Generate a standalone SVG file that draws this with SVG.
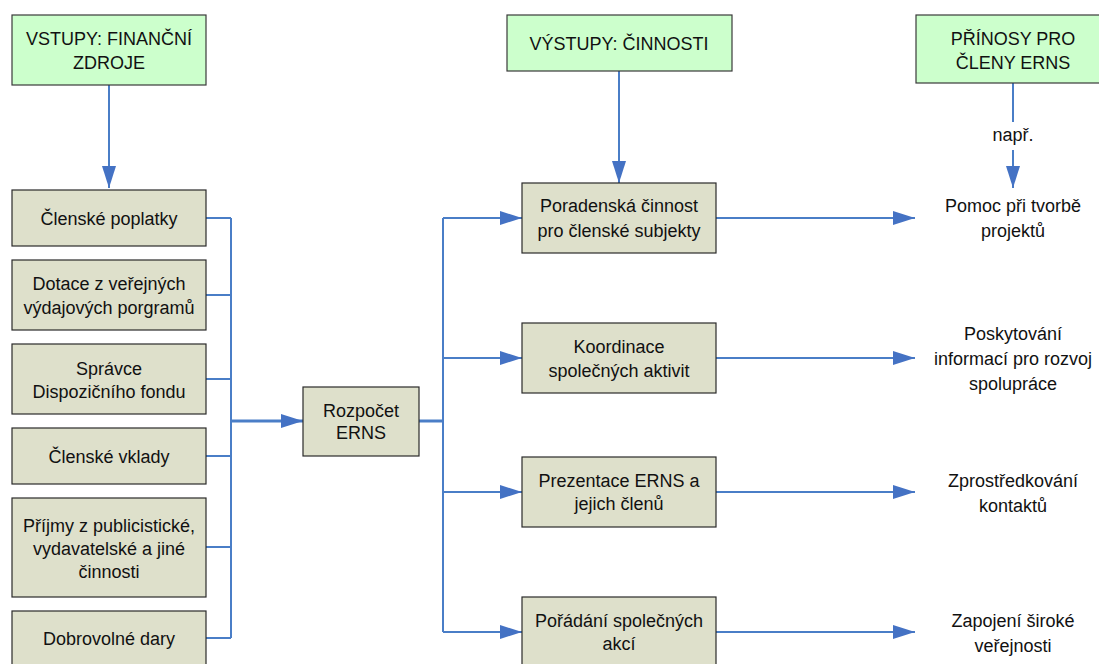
<svg xmlns="http://www.w3.org/2000/svg" width="1099" height="664" viewBox="0 0 1099 664">
<style>
text{font-family:"Liberation Sans",Arial,sans-serif;font-size:18px;fill:#111;text-anchor:middle}
.hdr{fill:#CCFFCC;stroke:#3a3a3a;stroke-width:1.2}
.box{fill:#DEE0CB;stroke:#2a2a2a;stroke-width:1.2}
.ln{fill:none;stroke:#4A7EC7;stroke-width:2}
.thick{fill:none;stroke:#4A7EC7;stroke-width:3}
</style>
<defs>
<marker id="ah" markerUnits="userSpaceOnUse" markerWidth="22" markerHeight="14" refX="22" refY="7" orient="auto">
<path d="M0,0 L22,7 L0,14 Z" fill="#4472C4"/>
</marker>
</defs>
<rect width="1099" height="664" fill="#fff"/>
<g id="connectors">
<path class="ln" d="M109,85 V188" marker-end="url(#ah)"/>
<path class="ln" d="M619,71 V183" marker-end="url(#ah)"/>
<path class="ln" d="M1013,83 V122 M1013,150 V188" marker-end="url(#ah)"/>
<path class="ln" d="M206,218 H231 M206,295 H231 M206,379 H231 M206,456 H231 M206,547 H231 M206,638 H231 M231,218 V638"/>
<path class="thick" d="M231,421 H303" marker-end="url(#ah)"/>
<path class="thick" d="M419,421 H443"/>
<path class="ln" d="M443,218 V632"/>
<path class="ln" d="M443,218 H522" marker-end="url(#ah)"/>
<path class="ln" d="M443,358 H522" marker-end="url(#ah)"/>
<path class="ln" d="M443,492 H522" marker-end="url(#ah)"/>
<path class="ln" d="M443,632 H522" marker-end="url(#ah)"/>
<path class="ln" d="M716,218 H915" marker-end="url(#ah)"/>
<path class="ln" d="M716,358 H915" marker-end="url(#ah)"/>
<path class="ln" d="M716,492 H915" marker-end="url(#ah)"/>
<path class="ln" d="M716,632 H915" marker-end="url(#ah)"/>
<text x="1013" y="141">např.</text>
</g>
<g id="vstupy"><rect class="hdr" x="12" y="15" width="194" height="70"/><text x="109" y="45">VSTUPY: FINANČNÍ</text><text x="109" y="69">ZDROJE</text></g>
<g id="vystupy"><rect class="hdr" x="507" y="15" width="225" height="56"/><text x="619" y="50">VÝSTUPY: ČINNOSTI</text></g>
<g id="prinosy"><rect class="hdr" x="916" y="15" width="194" height="68"/><text x="1013" y="45">PŘÍNOSY PRO</text><text x="1013" y="69">ČLENY ERNS</text></g>
<g id="clenske-poplatky"><rect class="box" x="12" y="190" width="194" height="56"/><text x="109" y="225">Členské poplatky</text></g>
<g id="dotace"><rect class="box" x="12" y="260" width="194" height="70"/><text x="109" y="290">Dotace z veřejných</text><text x="109" y="314">výdajových porgramů</text></g>
<g id="spravce"><rect class="box" x="12" y="344" width="194" height="70"/><text x="109" y="375">Správce</text><text x="109" y="398">Dispozičního fondu</text></g>
<g id="clenske-vklady"><rect class="box" x="12" y="428" width="194" height="56"/><text x="109" y="463">Členské vklady</text></g>
<g id="prijmy"><rect class="box" x="12" y="498" width="194" height="99"/><text x="109" y="532">Příjmy z publicistické,</text><text x="109" y="555">vydavatelské a jiné</text><text x="109" y="578">činnosti</text></g>
<g id="dary"><rect class="box" x="12" y="611" width="194" height="56"/><text x="109" y="645">Dobrovolné dary</text></g>
<g id="rozpocet"><rect class="box" x="303" y="387" width="116" height="69"/><text x="361" y="417">Rozpočet</text><text x="361" y="439">ERNS</text></g>
<g id="poradenska"><rect class="box" x="522" y="183" width="194" height="70"/><text x="619" y="212">Poradenská činnost</text><text x="619" y="237">pro členské subjekty</text></g>
<g id="koordinace"><rect class="box" x="522" y="323" width="194" height="70"/><text x="619" y="353">Koordinace</text><text x="619" y="377">společných aktivit</text></g>
<g id="prezentace"><rect class="box" x="522" y="457" width="194" height="70"/><text x="619" y="487">Prezentace ERNS a</text><text x="619" y="510">jejich členů</text></g>
<g id="poradani"><rect class="box" x="522" y="597" width="194" height="70"/><text x="619" y="627">Pořádání společných</text><text x="619" y="650">akcí</text></g>
<g id="pomoc"><text x="1013" y="212">Pomoc při tvorbě</text><text x="1013" y="237">projektů</text></g>
<g id="poskytovani"><text x="1013" y="340">Poskytování</text><text x="1013" y="365">informací pro rozvoj</text><text x="1013" y="390">spolupráce</text></g>
<g id="zprostredkovani"><text x="1013" y="487">Zprostředkování</text><text x="1013" y="512">kontaktů</text></g>
<g id="zapojeni"><text x="1013" y="627">Zapojení široké</text><text x="1013" y="652">veřejnosti</text></g>
</svg>
